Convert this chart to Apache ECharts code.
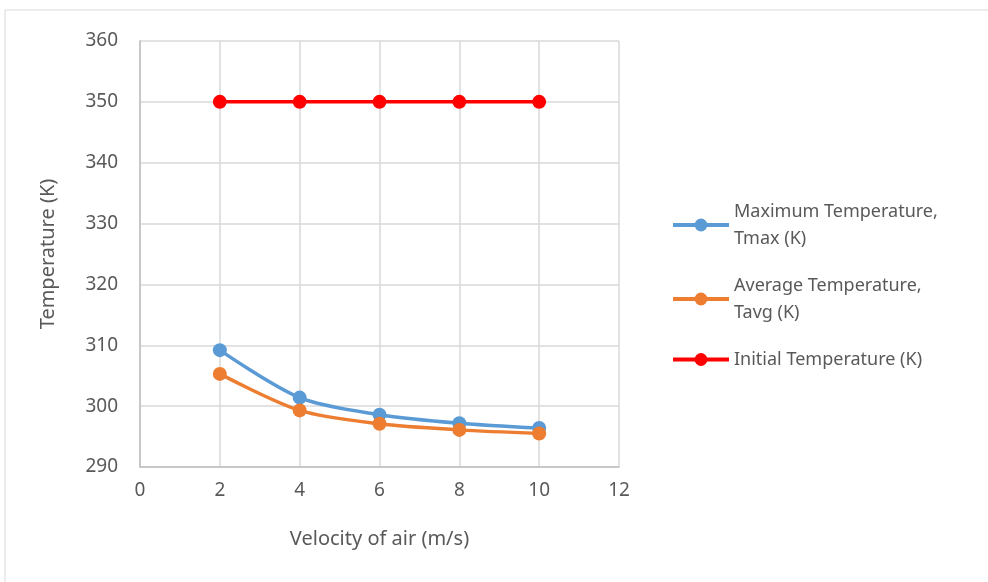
<!DOCTYPE html>
<html>
<head>
<meta charset="utf-8">
<script src="https://cdn.jsdelivr.net/npm/echarts@6/dist/echarts.min.js"></script>
<style>
  html, body { margin: 0; padding: 0; background: #fff; }
  #main { width: 988px; height: 582px; }
</style>
</head>
<body>
<div id="main"></div>
<script>
// 数据
var velocity = [2, 4, 6, 8, 10];
var tMax = [309.2, 301.4, 298.6, 297.2, 296.4];
var tAvg = [305.3, 299.3, 297.1, 296.1, 295.5];
var tInit = [350, 350, 350, 350, 350];
var seriesNames = ['Maximum Temperature,\nTmax (K)', 'Average Temperature,\nTavg (K)', 'Initial Temperature (K)'];

function pairs(ys) {
    var out = [];
    for (var i = 0; i < velocity.length; i++) {
        out.push([velocity[i], ys[i]]);
    }
    return out;
}

var font = 'Noto Sans';
var myChart = echarts.init(document.getElementById('main'));

var option = {
    backgroundColor: '#fff',
    textStyle: { fontFamily: font },
    graphic: [{
        type: 'rect',
        shape: { x: 5, y: 10, width: 990, height: 580 },
        style: { fill: 'none', stroke: '#d9d9d9', lineWidth: 1 }
    }],
    grid: { left: 140, right: 369, top: 41, bottom: 115 },
    legend: {
        orient: 'vertical',
        left: 666,
        top: 193,
        itemWidth: 56,
        itemHeight: 16,
        itemGap: 20,
        lineStyle: { width: 4 },
        textStyle: { fontSize: 18, color: '#595959', fontFamily: font, lineHeight: 27 },
        data: seriesNames
    },
    xAxis: {
        type: 'value',
        min: 0, max: 12, interval: 2,
        name: 'Velocity of air (m/s)',
        nameLocation: 'middle',
        nameGap: 62,
        nameTextStyle: { fontSize: 20, color: '#595959' },
        axisLine: { show: true, lineStyle: { color: '#bfbfbf', width: 1.5 } },
        axisTick: { show: false },
        axisLabel: { fontSize: 19, color: '#595959', margin: 14 },
        splitLine: { show: true, lineStyle: { color: '#d9d9d9', width: 1.5 } }
    },
    yAxis: {
        type: 'value',
        min: 290, max: 360, interval: 10,
        name: 'Temperature (K)',
        nameLocation: 'middle',
        nameGap: 82,
        nameTextStyle: { fontSize: 20, color: '#595959' },
        axisLine: { show: true, lineStyle: { color: '#bfbfbf', width: 1.5 } },
        axisTick: { show: false },
        axisLabel: { fontSize: 19, color: '#595959', margin: 22 },
        splitLine: { show: true, lineStyle: { color: '#d9d9d9', width: 1.5 } }
    },
    series: [
        {
            name: seriesNames[0],
            type: 'line',
            smooth: 0.3,
            symbol: 'circle',
            symbolSize: 14,
            color: '#5b9bd5',
            lineStyle: { width: 3.5 },
            data: pairs(tMax)
        },
        {
            name: seriesNames[1],
            type: 'line',
            smooth: 0.3,
            symbol: 'circle',
            symbolSize: 14,
            color: '#ed7d31',
            lineStyle: { width: 3.5 },
            data: pairs(tAvg)
        },
        {
            name: seriesNames[2],
            type: 'line',
            symbol: 'circle',
            symbolSize: 14,
            color: '#ff0000',
            lineStyle: { width: 3.5 },
            data: pairs(tInit)
        }
    ]
};

myChart.setOption(option);
</script>
</body>
</html>
